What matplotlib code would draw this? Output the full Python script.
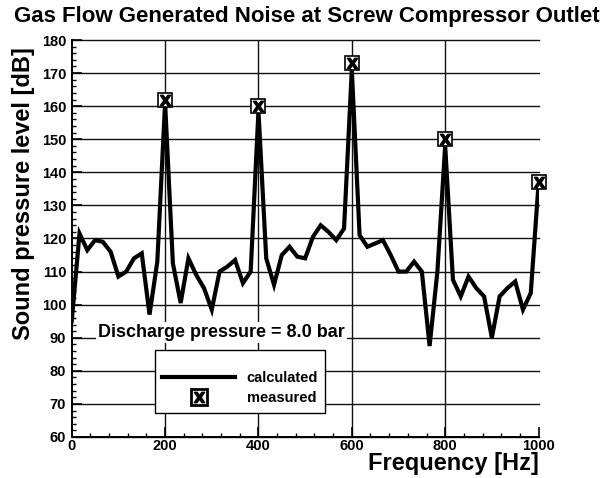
import matplotlib
matplotlib.use("Agg")
import matplotlib.pyplot as plt
from matplotlib.lines import Line2D
from matplotlib.legend_handler import HandlerTuple
from matplotlib.ticker import MultipleLocator

plt.rcParams['font.family'] = ['Liberation Sans', 'DejaVu Sans']
plt.rcParams['font.weight'] = 'bold'

# ---- data ----
calc_freq = [k * 200 / 12 for k in range(61)]
calc_spl = [95, 121.5, 116.5, 119.5, 119, 116, 108.5, 110, 114, 115.5,
            97, 113, 161, 112.5, 100.5, 114, 109, 105, 98.5, 110,
            111.5, 113.5, 106.5, 110, 158.5, 114, 106, 115, 117.5, 114.5,
            114, 120.5, 124, 122, 119.5, 123, 171, 121, 117.5, 118.5,
            119.5, 115, 110, 110, 113, 110, 87.5, 110, 148, 107.5,
            102.5, 108.5, 105, 102.5, 90, 102.5, 105, 107, 98.5, 103.5,
            136.5]
meas_freq = [200, 400, 600, 800, 1000]
meas_spl = [162, 160, 173, 150, 137]
x_ticks = [0, 200, 400, 600, 800, 1000]
y_ticks = list(range(60, 181, 10))

title = "Gas Flow Generated Noise at Screw Compressor Outlet"
xlabel = "Frequency [Hz]"
ylabel = "Sound pressure level [dB]"
note = "Discharge pressure = 8.0 bar"

fig = plt.figure(figsize=(6.11, 4.78), dpi=100)
ax = fig.add_axes([0.1174, 0.0858, 0.764, 0.8305])

ax.set_xlim(0, 1000)
ax.set_ylim(60, 180)
ax.set_xticks(x_ticks)
ax.set_yticks(y_ticks)
ax.xaxis.set_minor_locator(MultipleLocator(40))
ax.yaxis.set_minor_locator(MultipleLocator(2))
ax.tick_params(which='major', direction='in', length=7, width=1.2,
               labelsize=10.5)
ax.tick_params(axis='y', which='major', pad=4)
ax.tick_params(axis='x', which='major', pad=1.5)
ax.tick_params(which='minor', direction='in', length=3, width=1)

for s in ['top', 'right']:
    ax.spines[s].set_visible(False)
for s in ['left', 'bottom']:
    ax.spines[s].set_linewidth(1.4)

ax.grid(True, which='major', color='#111111', lw=1.0, zorder=1)
ax.set_axisbelow(True)
xg = ax.get_xgridlines()
xg[0].set_visible(False)
xg[-1].set_visible(False)
for g in ax.get_ygridlines():
    g.set_clip_on(False)

ax.plot(calc_freq, calc_spl, color='black', lw=3, solid_joinstyle='miter', zorder=3)
ax.plot(meas_freq, meas_spl, ls='none', marker='s', ms=10.5, mfc='white',
        mec='black', mew=1.2, clip_on=False, zorder=5)
ax.plot(meas_freq, meas_spl, ls='none', marker=r'$\mathsf{X}$', ms=7.5,
        color='black', clip_on=False, zorder=6)

ax.text(56, 91.6, note, fontsize=13, fontweight='bold', ha='left', va='center',
        bbox=dict(facecolor='white', edgecolor='none', pad=1.5), zorder=4)

h_line = Line2D([], [], color='black', lw=3)
h_meas = (Line2D([], [], ls='none', marker='s', ms=11, mfc='white', mec='black', mew=2),
          Line2D([], [], ls='none', marker=r'$\mathsf{X}$', ms=7.5, color='black'))
leg = ax.legend([h_line, h_meas], ['calculated', 'measured'],
                handler_map={tuple: HandlerTuple(ndivide=1)},
                loc='upper left', bbox_to_anchor=(0.178, 0.219), borderaxespad=0,
                frameon=True, fancybox=False, edgecolor='black', framealpha=1,
                handlelength=5, handletextpad=0.8, borderpad=0.5, labelspacing=0.45,
                prop={'weight': 'bold', 'size': 10.5}, title=' ', title_fontsize=5)
leg.get_frame().set_linewidth(1.0)
leg.set_zorder(7)

ax.set_xlabel(xlabel, loc='right', fontsize=17, fontweight='bold', labelpad=-1)
ax.set_ylabel(ylabel, fontsize=17, fontweight='bold')
ax.yaxis.set_label_coords(-0.079, 0.612)

fig.text(0.5016, 0.966, title, fontsize=16, fontweight='bold', ha='center', va='center')

fig.savefig('out.png', dpi=100)
